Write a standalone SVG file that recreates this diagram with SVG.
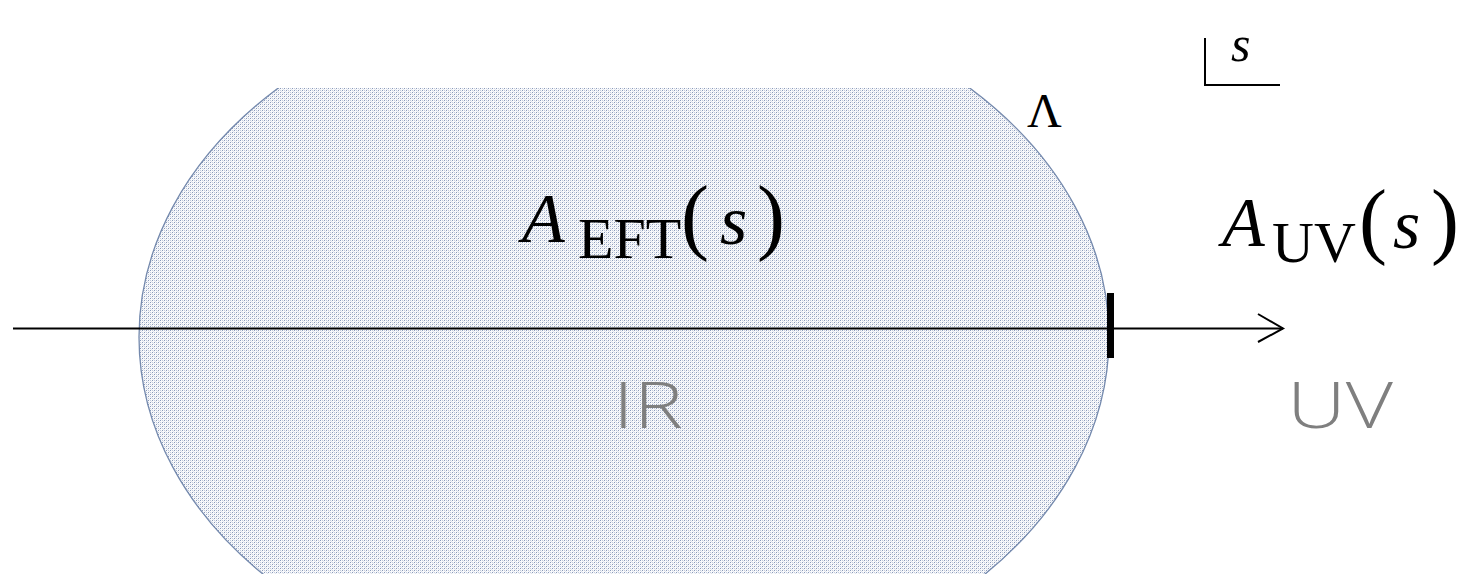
<svg xmlns="http://www.w3.org/2000/svg" width="1470" height="574" viewBox="0 0 1470 574">
  <style>
    .math { font-family: "Liberation Serif", "DejaVu Serif", serif; fill: #000; }
    .it { font-style: italic; }
    .region { font-family: "Open Sans", "Liberation Sans", Arial, sans-serif; font-weight: 300; fill: #7f7f7f; font-size: 64px; }
    .axis { stroke: #000; stroke-width: 2; fill: none; }
  </style>
  <defs>
    <pattern id="dots" width="4" height="4" patternUnits="userSpaceOnUse">
      <rect width="4" height="4" fill="#f9fafc"/>
      <rect x="0" y="0" width="1" height="1" fill="#8a9aba"/>
      <rect x="2" y="2" width="1" height="1" fill="#8a9aba"/>
      <rect x="2" y="0" width="1" height="1" fill="#c4cbdb"/>
      <rect x="0" y="2" width="1" height="1" fill="#c4cbdb"/>
      <rect x="1" y="3" width="1" height="1" fill="#dfe3ec"/>
      <rect x="3" y="1" width="1" height="1" fill="#dfe3ec"/>
    </pattern>
    <clipPath id="cut">
      <rect x="0" y="88" width="1470" height="486"/>
    </clipPath>
  </defs>

  <g id="region-eft">
    <ellipse cx="624" cy="337" rx="485" ry="355" fill="url(#dots)" stroke="#7489ad" stroke-width="1.3" clip-path="url(#cut)"/>
  </g>

  <g id="connectors">
    <line class="axis" x1="13" y1="328.5" x2="1283" y2="328.5"/>
    <polyline class="axis" points="1258,314 1283,328.5 1258,342"/>
    <rect x="1107" y="293" width="7" height="65" fill="#000"/>
  </g>

  <g id="label-s">
    <polyline class="axis" points="1205,38 1205,85 1280,85"/>
    <text class="math it" x="1231" y="61" font-size="50">s</text>
  </g>

  <g id="label-lambda">
    <text class="math" x="1027" y="127" font-size="48">Λ</text>
  </g>

  <g id="label-aeft">
    <text class="math" y="242">
      <tspan class="it" x="522" font-size="70">A</tspan>
      <tspan x="578" y="258" font-size="58">EFT</tspan>
      <tspan x="681" y="244" font-size="84">(</tspan>
      <tspan class="it" x="720" y="244" font-size="70">s</tspan>
      <tspan x="757" y="244" font-size="84">)</tspan>
    </text>
  </g>

  <g id="label-auv">
    <text class="math" y="246">
      <tspan class="it" x="1222" font-size="70">A</tspan>
      <tspan x="1272" y="262" font-size="58">UV</tspan>
      <tspan x="1359" y="248" font-size="84">(</tspan>
      <tspan class="it" x="1393" y="248" font-size="70">s</tspan>
      <tspan x="1431" y="248" font-size="84">)</tspan>
    </text>
  </g>

  <g id="label-ir">
    <text class="region" x="613" y="428" font-size="64" textLength="70" lengthAdjust="spacingAndGlyphs">IR</text>
  </g>

  <g id="label-uv">
    <text class="region" x="1287" y="428" font-size="64" textLength="106" lengthAdjust="spacingAndGlyphs">UV</text>
  </g>
</svg>
